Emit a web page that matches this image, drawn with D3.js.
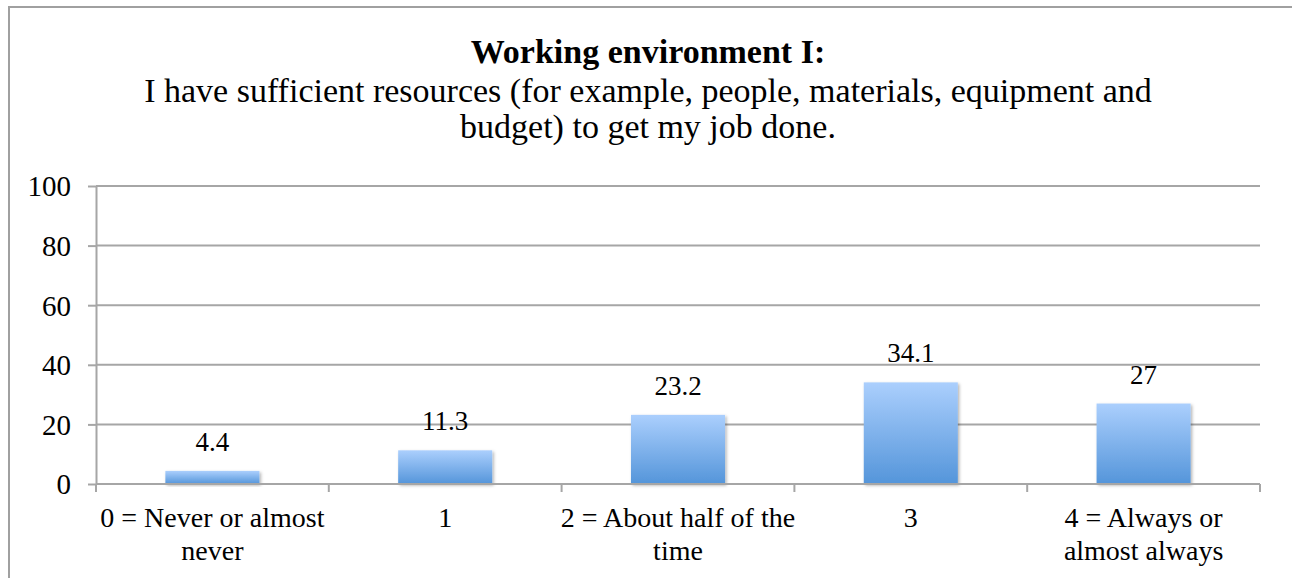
<!DOCTYPE html>
<html>
<head>
<meta charset="utf-8">
<script src="https://cdn.jsdelivr.net/npm/d3@7"></script>
<style>
  html, body { margin: 0; padding: 0; background: #fff; }
  svg { display: block; }
  text { font-family: "Liberation Serif", "Times New Roman", serif; fill: #000; }
</style>
</head>
<body>
<svg id="chart" width="1292" height="578"></svg>
<script>
const titleText = "Working environment I:";
const subtitleLines = [
  "I have sufficient resources (for example, people, materials, equipment and",
  "budget) to get my job done."
];
const categories = [
  "0 = Never or almost\nnever",
  "1",
  "2 = About half of the\ntime",
  "3",
  "4 = Always or\nalmost always"
];
const values = [4.4, 11.3, 23.2, 34.1, 27];
const valueLabels = ["4.4", "11.3", "23.2", "34.1", "27"];
const yTicks = [0, 20, 40, 60, 80, 100];

const svg = d3.select("#chart");
const plot = { left: 96, right: 1260, top: 186, bottom: 484 };

// outer chart border (extends past the viewport on right/bottom)
svg.append("rect")
  .attr("x", 9).attr("y", 7)
  .attr("width", 1400).attr("height", 700)
  .attr("fill", "none").attr("stroke", "#a0a0a0").attr("stroke-width", 2);

const defs = svg.append("defs");
const grad = defs.append("linearGradient")
  .attr("id", "barGrad").attr("x1", 0).attr("y1", 0).attr("x2", 0).attr("y2", 1);
grad.append("stop").attr("offset", "0%").attr("stop-color", "#abcffd");
grad.append("stop").attr("offset", "100%").attr("stop-color", "#5495da");

const shadow = defs.append("filter").attr("id", "shadow")
  .attr("x", "-10%").attr("y", "-10%").attr("width", "130%").attr("height", "130%");
shadow.append("feDropShadow")
  .attr("dx", 1.5).attr("dy", 1.5).attr("stdDeviation", 1.5)
  .attr("flood-color", "#000").attr("flood-opacity", 0.3);

const x = d3.scaleBand()
  .domain(categories)
  .range([plot.left, plot.right])
  .paddingInner(0.596).paddingOuter(0.298);

const y = d3.scaleLinear().domain([0, 100]).range([plot.bottom, plot.top]);

// title
svg.append("text")
  .attr("x", 648).attr("y", 63)
  .attr("text-anchor", "middle")
  .attr("font-weight", "bold")
  .attr("font-size", 34)
  .text(titleText);

svg.selectAll("text.sub")
  .data(subtitleLines)
  .enter().append("text")
  .attr("class", "sub")
  .attr("x", 648)
  .attr("y", (d, i) => 102 + i * 36)
  .attr("text-anchor", "middle")
  .attr("font-size", 34)
  .text(d => d);

// gridlines
const gridColor = "#a6a6a6";
svg.append("g").selectAll("line")
  .data(yTicks.filter(t => t > 0))
  .enter().append("line")
  .attr("x1", plot.left).attr("x2", plot.right)
  .attr("y1", d => y(d)).attr("y2", d => y(d))
  .attr("stroke", gridColor).attr("stroke-width", 2);

// y axis
const yAxis = svg.append("g")
  .attr("transform", `translate(${plot.left},0)`)
  .call(d3.axisLeft(y).tickValues(yTicks).tickSize(8).tickPadding(17).tickSizeOuter(0));
yAxis.select(".domain").attr("stroke", gridColor).attr("stroke-width", 2);
yAxis.selectAll(".tick line").attr("stroke", gridColor).attr("stroke-width", 2);
yAxis.selectAll(".tick text")
  .attr("font-family", "Liberation Serif, serif")
  .attr("font-size", 29).attr("fill", "#000").attr("dy", "0.34em");

// bars
svg.append("g").selectAll("rect")
  .data(values)
  .enter().append("rect")
  .attr("x", (d, i) => x(categories[i]))
  .attr("width", x.bandwidth())
  .attr("y", d => y(d))
  .attr("height", d => y(0) - y(d))
  .attr("fill", "url(#barGrad)")
  .attr("filter", "url(#shadow)");

// x axis line and boundary ticks
const boundaries = d3.range(categories.length + 1).map(i => plot.left + i * (plot.right - plot.left) / categories.length);
svg.append("line")
  .attr("x1", plot.left).attr("x2", plot.right)
  .attr("y1", y(0)).attr("y2", y(0))
  .attr("stroke", gridColor).attr("stroke-width", 2);
svg.append("g").selectAll("line")
  .data(boundaries)
  .enter().append("line")
  .attr("x1", d => d).attr("x2", d => d)
  .attr("y1", y(0)).attr("y2", y(0) + 8)
  .attr("stroke", gridColor).attr("stroke-width", 2);

// value labels
svg.append("g").selectAll("text")
  .data(values)
  .enter().append("text")
  .attr("x", (d, i) => x(categories[i]) + x.bandwidth() / 2)
  .attr("y", d => y(d) - 20)
  .attr("text-anchor", "middle")
  .attr("font-size", 27)
  .text((d, i) => valueLabels[i]);

// category labels
const catG = svg.append("g");
categories.forEach(c => {
  const lines = c.split("\n");
  const t = catG.append("text")
    .attr("text-anchor", "middle")
    .attr("font-size", 28);
  lines.forEach((ln, j) => {
    t.append("tspan")
      .attr("x", x(c) + x.bandwidth() / 2)
      .attr("y", 527 + j * 33)
      .text(ln);
  });
});
</script>
</body>
</html>
